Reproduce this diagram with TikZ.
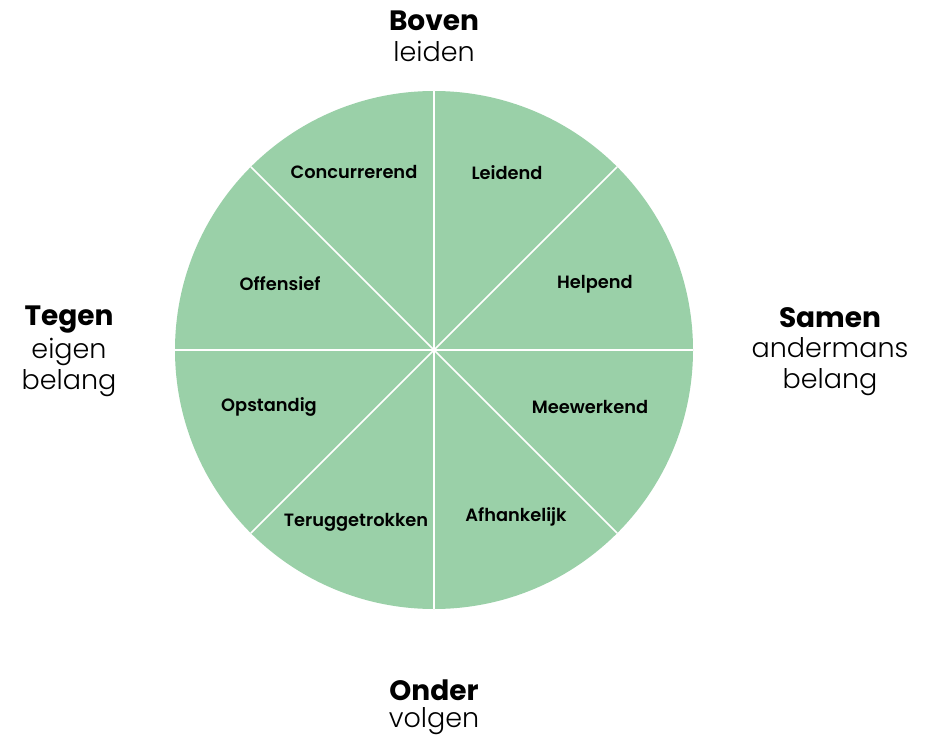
\documentclass[tikz,border=0pt]{standalone}
\usepackage{fontspec}
\setmainfont{Poppins}
\newfontfamily\lightfont{Poppins Light}
\newfontfamily\semifont{Poppins SemiBold}
\definecolor{sector}{RGB}{154,208,168}
\begin{document}
\begin{tikzpicture}[x=1pt,y=-1pt,
  seg/.style={font=\fontsize{17.8}{20}\semifont},
  head/.style={font=\fontsize{28}{30}\selectfont\bfseries},
  sub/.style={font=\fontsize{27}{31}\lightfont, align=center},
  divider/.style={white, line width=1.6pt}]
\useasboundingbox (0,0) rectangle (926,738);
\coordinate (c) at (434,350);
\fill[sector] (c) circle[radius=259];
\foreach \a in {0,45,...,315}{
  \draw[divider] (c) -- ++(\a:259);
}
\node[seg] (conc) at (354,172) {Concurrerend};
\node[seg] (leid) at (507,173) {Leidend};
\node[seg] (help) at (595,284) {Helpend};
\node[seg] (off) at (280,284) {Offensief};
\node[seg] (opst) at (269,407) {Opstandig};
\node[seg] (mee) at (590,407) {Meewerkend};
\node[seg] (terug) at (356,522) {Teruggetrokken};
\node[seg] (afh) at (516,517) {Afhankelijk};
\node[head] (boven) at (434,21) {Boven};
\node[sub] (leiden) at (434,51) {leiden};
\node[head] (tegen) at (69,320) {Tegen};
\node[sub] (eigen) at (69,367) {eigen\\belang};
\node[head] (samen) at (830,318) {Samen};
\node[sub] (anderm) at (830,367) {andermans\\belang};
\node[head] (onder) at (434,690) {Onder};
\node[sub] (volgen) at (434,721) {volgen};
\end{tikzpicture}
\end{document}
